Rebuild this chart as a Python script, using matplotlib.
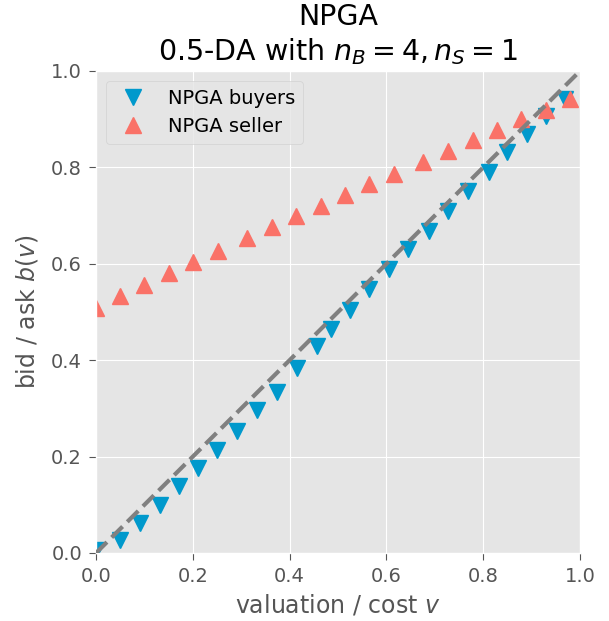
import matplotlib
matplotlib.use('Agg')
import matplotlib.pyplot as plt
import numpy as np

# valores
v_buyers = [0.0, 0.050, 0.091, 0.132, 0.172, 0.211, 0.251, 0.292, 0.332, 0.373,
            0.415, 0.456, 0.485, 0.525, 0.565, 0.606, 0.645, 0.687, 0.728, 0.769,
            0.811, 0.850, 0.890, 0.930, 0.970]
b_buyers = [0.006, 0.026, 0.063, 0.100, 0.138, 0.176, 0.214, 0.254, 0.296, 0.335,
            0.384, 0.429, 0.464, 0.505, 0.547, 0.590, 0.630, 0.668, 0.710, 0.751,
            0.791, 0.831, 0.869, 0.907, 0.942]

v_seller = [0.0, 0.050, 0.100, 0.151, 0.201, 0.252, 0.313, 0.363, 0.413, 0.464,
            0.514, 0.565, 0.616, 0.676, 0.727, 0.778, 0.828, 0.878, 0.929, 0.979]
b_seller = [0.509, 0.533, 0.557, 0.580, 0.603, 0.626, 0.654, 0.677, 0.699, 0.720,
            0.742, 0.765, 0.786, 0.812, 0.834, 0.857, 0.877, 0.900, 0.919, 0.942]

plt.style.use('ggplot')

fig = plt.figure(figsize=(6.09, 6.21), dpi=100)
ax = fig.add_axes([96 / 609, 1 - 553 / 621, 484 / 609, 482 / 621])

ax.plot(v_buyers, b_buyers, linestyle='none', marker='v', markersize=12,
        color='#0099cc', label='NPGA buyers')
ax.plot(v_seller, b_seller, linestyle='none', marker='^', markersize=12,
        color='#fa7268', label='NPGA seller')
ax.plot([0, 1], [0, 1], linestyle='--', color='grey', linewidth=3, zorder=3)

ax.set_xlim(0, 1)
ax.set_ylim(0, 1)
ax.set_xticks([0, 0.2, 0.4, 0.6, 0.8, 1.0])
ax.set_yticks([0, 0.2, 0.4, 0.6, 0.8, 1.0])
ax.tick_params(labelsize=14, length=5, pad=5)

ax.set_xlabel('valuation / cost $v$', fontsize=17, labelpad=5)
ax.set_ylabel('bid / ask $b(v)$', fontsize=17, labelpad=8)
ax.set_title('NPGA\n0.5-DA with $n_B = 4, n_S = 1$', fontsize=20.5, pad=8)

ax.legend(loc='upper left', fontsize=14)

fig.savefig('out.png', dpi=100)
